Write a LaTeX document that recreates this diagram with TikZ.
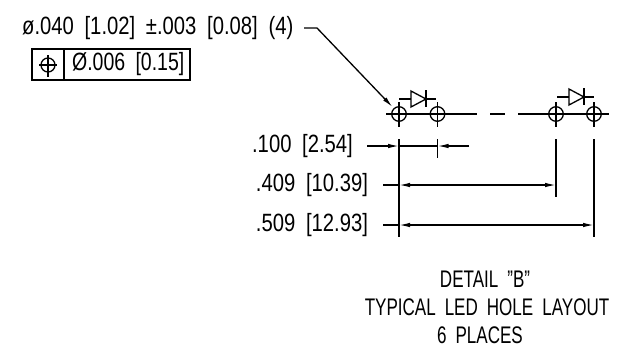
\documentclass[tikz,border=0pt]{standalone}
\usepackage{fontspec}
\setmainfont[WordSpace=1.9]{Liberation Sans}
\usetikzlibrary{arrows.meta,calc}
\tikzset{
  dimtext/.style={font=\fontsize{25}{25}\selectfont, inner sep=0pt, xscale=0.81},
  tolstext/.style={font=\fontsize{25}{25}\selectfont, inner sep=0pt, xscale=0.78},
  notetext/.style={font=\fontsize{24}{24}\selectfont, inner sep=0pt, xscale=0.71},
  line/.style={line width=1.3pt},
  tip/.style={-{Latex[length=11pt,width=4.5pt]}},
  bothtips/.style={{Latex[length=11pt,width=4.5pt]}-{Latex[length=11pt,width=4.5pt]}}
}
\newcommand{\holemark}[1]{
\draw [line] (#1) circle (7.3);
\draw [line] ($(#1)+(0,-12)$) -- ($(#1)+(0,13)$);
}
\newcommand{\diodemark}[1]{
\draw [line] (#1) -- ++(12,0);
\draw [line] ($(#1)+(12,-8)$) -- ($(#1)+(12,8)$) -- ($(#1)+(27,0)$) -- cycle;
\draw [line] ($(#1)+(27,-9)$) -- ($(#1)+(27,8)$);
\draw [line] ($(#1)+(27,0)$) -- ++(10,0);
}
\begin{document}
\begin{tikzpicture}[x=1pt,y=-1pt]
\useasboundingbox (0,0) rectangle (622,349);

\coordinate (holeA) at (399,114);
\coordinate (holeB) at (437.5,114);
\coordinate (holeC) at (556,114);
\coordinate (holeD) at (594,114);

%callout
\node [dimtext, anchor=west] (note) at (22,28) {ø.040 [1.02] ±.003 [0.08] (4)};
\coordinate (bend) at (317,28);
\coordinate (leadstart) at (304,28);
\coordinate (leadend) at (392.5,107);
\draw [line, tip] (leadstart) -- (bend) -- (leadend);

%tolerance frame
\draw [line] (32,49) rectangle (190,80);
\draw [line] (64,49) -- (64,80);
\coordinate (tolsym) at (48,65);
\draw [line] (tolsym) circle (7);
\draw [line] (39,65) -- (57,65);
\draw [line] (48,55) -- (48,76.5);
\node [tolstext, anchor=west] (tolval) at (72,64) {Ø.006 [0.15]};

%holes and center line
\holemark{holeA}
\holemark{holeB}
\holemark{holeC}
\holemark{holeD}
\draw [line] (386,114) -- (477,114);
\draw [line] (490,114) -- (505,114);
\draw [line] (518,114) -- (609,114);
\coordinate (diodeA) at (399,99);
\coordinate (diodeB) at (557,97);
\diodemark{diodeA}
\diodemark{diodeB}

%extension lines
\draw [line] (399,139) -- (399,237);
\draw [line] (437.5,139) -- (437.5,158);
\draw [line] (556,139) -- (556,197);
\draw [line] (594,139) -- (594,237);

%dimensions
\node [dimtext] (dimA) at (302.5,146) {.100 [2.54]};
\node [dimtext] (dimB) at (312,185) {.409 [10.39]};
\node [dimtext] (dimC) at (312,225) {.509 [12.93]};
\draw [line, tip] (367,146) -- (399,146);
\draw [line] (399,146) -- (437.5,146);
\draw [line, tip] (469,146) -- (437.5,146);
\draw [line] (383,185) -- (399,185);
\draw [line, bothtips] (399,185) -- (556,185);
\draw [line] (383,225) -- (399,225);
\draw [line, bothtips] (399,225) -- (594,225);

%title
\node [notetext] (titleA) at (485,279) {DETAIL "B"};
\node [notetext] (titleB) at (487,307) {TYPICAL LED HOLE LAYOUT};
\node [notetext] (titleC) at (480,335) {6 PLACES};
\end{tikzpicture}
\end{document}
